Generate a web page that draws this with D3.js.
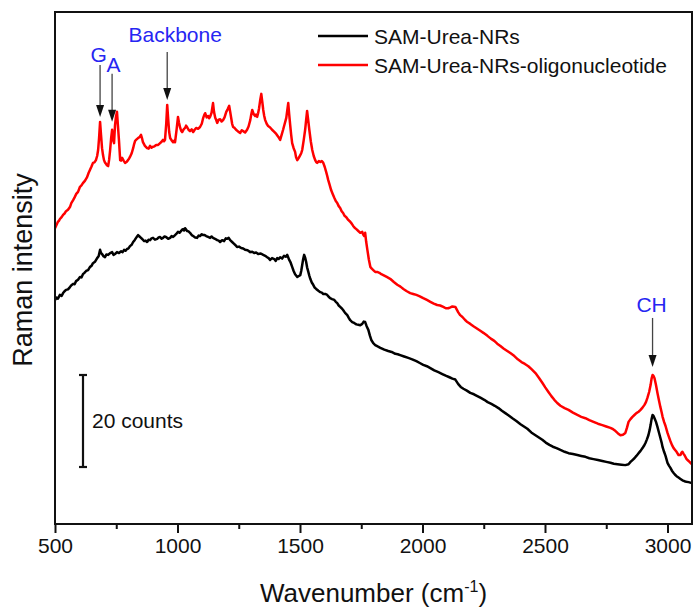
<!DOCTYPE html>
<html>
<head>
<meta charset="utf-8">
<script src="https://cdn.jsdelivr.net/npm/d3@7"></script>
<style>
  html, body { margin: 0; padding: 0; background: #fff; }
  svg { display: block; font-family: Arial, "Liberation Sans", sans-serif; }
</style>
</head>
<body>
<svg id="chart" width="694" height="608"></svg>
<script>
// Raman spectra: [wavenumber (cm-1), intensity (counts)]
const seriesNames = ["SAM-Urea-NRs", "SAM-Urea-NRs-oligonucleotide"];
const seriesColors = ["#000000", "#ff0000"];
const xTicks = [500, 1000, 1500, 2000, 2500, 3000];
const xMinorTicks = [750, 1250, 1750, 2250, 2750];

const nrsSpectrum = [
  [500,48.7],[506,49.2],[512,49.0],[520,49.8],[527,49.6],[533,50.2],[539,50.6],[545,50.9],[553,51.0],[561,51.5],[567,51.9],[574,52.2],[580,52.1],[586,52.8],
  [594,53.1],[602,53.7],[608,53.6],[614,54.3],[620,54.6],[627,55.0],[635,55.2],[643,55.9],[649,56.1],[655,56.7],[663,57.0],[672,57.8],[678,58.2],[684,59.6],[688,58.9],[692,58.7],
  [698,58.2],[704,58.0],[710,58.6],[717,58.5],[725,58.9],[733,59.1],[739,58.5],[745,58.7],[753,59.1],[761,58.9],[770,59.3],[776,59.1],[782,59.6],[788,59.4],[794,59.8],
  [800,59.9],[806,60.4],[813,60.7],[819,61.3],[825,61.7],[831,62.2],[835,62.5],[839,62.8],[845,62.5],[851,62.2],[857,61.9],[864,61.5],[870,61.6],[876,61.3],[882,61.8],[888,61.7],
  [894,62.1],[900,62.2],[908,61.8],[917,62.0],[923,62.3],[929,62.4],[935,62.0],[941,62.2],[947,62.5],[953,62.4],[962,62.0],[970,62.2],[976,62.6],[982,62.4],[988,62.7],[994,63.0],
  [1002,63.5],[1008,63.3],[1015,63.7],[1019,64.0],[1023,64.1],[1027,63.8],[1031,64.3],[1035,64.0],[1039,63.7],[1045,63.6],[1051,63.3],[1058,62.8],[1064,62.6],[1072,62.3],[1080,62.2],
  [1086,62.7],[1092,62.6],[1099,63.0],[1105,62.8],[1111,62.8],[1117,62.6],[1125,62.4],[1133,62.2],[1139,62.5],[1145,62.2],[1153,62.0],[1162,61.7],[1168,61.6],[1174,61.3],[1182,61.7],[1190,61.5],
  [1197,62.1],[1203,62.0],[1209,62.2],[1215,61.7],[1223,61.3],[1231,60.9],[1237,60.6],[1243,60.2],[1251,60.3],[1260,60.0],[1268,59.9],[1276,59.6],[1286,59.5],[1297,59.1],[1305,59.2],[1313,58.9],
  [1321,59.0],[1329,58.7],[1340,58.8],[1350,58.5],[1358,58.3],[1366,58.0],[1372,57.8],[1378,57.4],[1386,57.8],[1395,57.6],[1401,57.2],[1407,57.8],[1413,57.6],[1419,58.0],[1427,57.7],[1435,58.3],
  [1442,58.1],[1448,58.5],[1456,57.4],[1462,56.8],[1468,55.9],[1474,55.0],[1480,54.3],[1489,53.7],[1495,53.9],[1501,54.1],[1505,55.0],[1509,56.3],[1513,57.6],[1517,58.5],
  [1521,57.9],[1525,57.0],[1529,55.8],[1534,54.8],[1538,54.0],[1542,53.3],[1548,52.5],[1554,52.0],[1560,51.4],[1566,51.1],[1575,50.7],[1583,50.4],[1589,50.3],[1595,50.0],[1603,50.0],[1611,49.8],
  [1617,49.4],[1623,49.1],[1631,48.9],[1640,48.7],[1646,48.3],[1652,48.0],[1658,47.5],[1664,47.2],[1670,46.9],[1676,46.5],[1684,45.9],[1693,45.4],[1699,44.8],[1705,44.3],[1713,43.9],[1721,43.7],
  [1730,43.4],[1738,43.3],[1746,43.2],[1754,43.5],[1760,44.0],[1766,43.9],[1772,43.0],[1779,42.2],[1785,41.0],[1791,40.0],[1799,39.3],[1807,38.9],[1817,38.6],[1828,38.3],[1844,37.9],[1860,37.6],
  [1874,37.4],[1889,37.0],[1899,36.9],[1909,36.7],[1925,36.4],[1942,36.1],[1958,35.8],[1975,35.4],[1989,35.0],[2003,34.6],[2018,34.3],[2032,33.9],[2048,33.4],[2065,33.0],[2081,32.6],[2097,32.2],
  [2110,31.9],[2122,31.6],[2134,31.4],[2146,30.4],[2156,29.8],[2167,29.4],[2181,29.0],[2195,28.5],[2210,28.2],[2224,27.8],[2238,27.4],[2252,27.0],[2266,26.5],[2281,26.1],
  [2295,25.7],[2310,25.2],[2324,24.6],[2338,24.1],[2352,23.6],[2367,23.0],[2383,22.4],[2400,21.7],[2414,21.2],[2428,20.7],[2444,19.9],[2461,19.3],[2475,18.8],[2489,18.3],[2503,17.7],[2518,17.2],
  [2532,16.8],[2547,16.5],[2563,16.1],[2580,15.7],[2596,15.4],[2614,15.2],[2632,15.0],[2648,14.8],[2665,14.6],[2681,14.3],[2698,14.1],[2716,13.9],[2734,13.7],[2750,13.5],[2767,13.3],
  [2781,13.1],[2796,13.0],[2812,12.9],[2828,12.8],[2841,13.0],[2849,13.5],[2857,13.9],[2865,14.3],[2873,14.8],[2882,15.4],[2890,15.9],[2898,16.5],[2904,17.0],[2910,17.6],
  [2916,18.4],[2922,19.3],[2927,20.4],[2931,21.5],[2935,22.8],[2939,23.7],[2943,23.5],[2947,23.0],[2953,22.2],[2959,21.1],[2965,19.9],[2971,18.7],[2976,17.7],[2980,16.7],[2986,15.7],[2992,14.8],
  [3000,13.3],[3006,12.7],[3012,12.2],[3018,11.6],[3025,11.1],[3031,10.7],[3037,10.4],[3045,10.1],[3053,9.8],[3061,9.5],[3069,9.3],[3077,9.2],[3086,9.1],[3093,9.0],[3100,8.9]
];

const oligoSpectrum = [
  [500,64.3],[506,65.0],[512,65.7],[516,65.9],[520,66.3],[527,66.7],[533,67.2],[539,67.5],[545,68.0],[553,68.3],[561,68.9],[567,69.8],[574,70.4],[580,71.0],[586,71.7],
  [594,72.2],[602,73.3],[608,73.6],[614,74.1],[622,74.6],[631,75.4],[637,76.3],[643,77.0],[649,77.7],[655,78.5],[661,78.6],[667,79.1],[672,80.0],[676,81.3],[680,84.0],[684,87.4],
  [688,84.5],[692,81.7],[696,80.2],[700,79.1],[704,78.6],[708,78.3],[712,78.0],[717,77.8],[721,79.2],[725,81.3],[729,83.8],[733,85.7],[737,83.5],[741,82.8],
  [745,86.7],[749,88.6],[753,89.6],[757,86.5],[761,83.5],[766,79.1],[770,79.0],[774,79.6],[780,79.0],[786,78.5],[792,78.7],[798,79.1],[802,79.4],[806,79.8],
  [813,80.6],[819,81.7],[823,82.6],[827,83.3],[833,83.6],[839,83.9],[845,84.1],[851,84.6],[855,83.9],[859,83.0],[867,82.2],[876,81.7],[882,81.6],[888,82.2],[894,81.8],[900,82.0],
  [906,82.1],[913,82.4],[921,82.4],[929,82.8],[935,83.1],[941,83.5],[945,83.2],[949,83.5],[954,87.0],[958,91.1],[962,88.0],[966,85.2],[970,83.9],[976,83.4],[982,83.0],
  [986,83.3],[990,83.0],[996,85.6],[1002,88.5],[1006,87.3],[1011,86.1],[1015,85.5],[1019,85.2],[1025,85.8],[1031,86.1],[1035,86.6],[1039,86.3],[1045,85.7],[1051,85.4],[1058,85.8],[1064,85.2],
  [1070,85.7],[1076,86.1],[1084,85.9],[1092,86.3],[1099,87.0],[1105,88.3],[1109,88.9],[1113,89.3],[1119,88.4],[1125,88.7],[1129,88.2],[1133,88.5],[1139,89.4],[1145,91.5],[1149,89.6],[1154,88.3],
  [1158,87.8],[1162,87.2],[1168,87.9],[1174,88.0],[1180,87.5],[1186,87.8],[1192,88.4],[1199,89.6],[1205,90.2],[1211,90.9],[1215,89.6],[1219,88.3],[1223,87.0],[1227,86.3],[1233,86.1],[1239,85.7],
  [1248,85.3],[1256,85.0],[1262,85.6],[1268,85.4],[1276,85.1],[1284,85.7],[1290,86.4],[1297,87.8],[1301,89.0],[1305,90.0],[1311,89.1],[1317,88.7],[1321,89.0],[1325,88.5],[1329,89.3],[1333,90.4],
  [1338,92.3],[1342,93.5],[1346,91.8],[1350,90.0],[1354,88.7],[1358,87.8],[1364,87.0],[1370,86.5],[1378,86.2],[1386,85.7],[1394,85.3],[1403,84.8],[1411,84.2],[1419,83.5],[1425,84.6],[1431,85.7],
  [1437,86.9],[1444,88.3],[1448,89.9],[1452,91.5],[1456,89.0],[1460,86.7],[1464,84.6],[1468,82.8],[1474,81.7],[1480,80.9],[1484,79.7],[1489,79.1],[1495,79.6],[1501,80.2],[1505,80.6],[1509,81.3],
  [1515,83.4],[1521,85.7],[1525,87.8],[1529,89.8],[1533,88.0],[1538,85.7],[1544,83.2],[1550,81.3],[1556,80.0],[1562,79.1],[1566,78.7],[1570,78.5],[1577,78.9],[1583,78.7],[1589,78.9],[1595,78.5],
  [1601,77.6],[1607,76.5],[1611,75.7],[1615,74.8],[1621,73.7],[1627,72.6],[1633,71.8],[1640,70.9],[1646,70.2],[1652,69.8],[1658,69.1],[1664,68.7],[1670,68.0],[1676,67.6],[1682,67.0],[1689,66.7],
  [1697,66.1],[1705,65.7],[1711,65.3],[1717,64.8],[1723,64.4],[1730,64.1],[1738,63.7],[1746,63.3],[1754,63.5],[1758,62.9],[1762,62.6],[1766,63.3],[1770,61.4],[1775,59.6],
  [1781,57.5],[1787,55.9],[1793,55.5],[1799,55.2],[1807,54.8],[1815,54.8],[1824,54.6],[1832,54.3],[1840,54.1],[1854,53.7],[1868,53.3],[1883,52.6],[1897,52.0],[1910,51.6],[1922,51.1],
  [1936,50.6],[1950,50.2],[1962,50.0],[1975,49.8],[1989,49.5],[2003,49.1],[2018,48.7],[2032,48.3],[2046,47.9],[2060,47.6],[2072,47.5],[2085,47.2],[2095,46.9],[2105,46.9],[2114,47.1],[2122,47.3],
  [2134,47.2],[2140,46.6],[2146,46.0],[2154,45.4],[2163,45.0],[2173,44.4],[2183,43.9],[2195,43.5],[2208,43.0],[2222,42.5],[2236,42.0],[2250,41.5],[2265,40.9],[2279,40.3],[2293,39.8],
  [2305,39.2],[2318,38.7],[2332,38.1],[2346,37.6],[2360,37.1],[2375,36.5],[2389,35.8],[2404,35.2],[2418,34.8],[2432,34.3],[2446,33.6],[2461,32.8],[2475,31.8],[2489,30.7],[2501,29.7],[2514,28.7],
  [2526,27.8],[2538,27.0],[2550,26.3],[2563,25.7],[2580,25.2],[2596,24.8],[2614,24.2],[2632,23.7],[2648,23.3],[2665,23.0],[2681,22.6],[2698,22.2],[2716,21.8],[2734,21.5],[2750,21.2],[2767,20.9],
  [2778,20.6],[2788,20.2],[2798,19.7],[2808,19.3],[2818,19.4],[2828,19.8],[2835,21.0],[2841,22.2],[2849,22.8],[2857,23.3],[2865,23.7],[2873,24.1],[2882,24.4],[2890,24.8],[2898,25.3],[2906,25.9],
  [2912,26.5],[2918,27.4],[2925,28.7],[2931,30.2],[2935,31.6],[2939,32.4],[2943,32.2],[2947,31.7],[2953,30.2],[2959,28.5],[2965,26.9],[2971,25.4],[2976,24.3],[2980,23.3],[2986,22.2],[2992,21.3],
  [3000,19.8],[3006,18.9],[3012,18.0],[3018,17.2],[3025,16.5],[3031,16.1],[3037,15.7],[3045,15.0],[3053,15.0],[3057,15.5],[3061,15.7],[3065,15.3],[3069,15.0],
  [3078,14.1],[3084,13.8],[3090,13.5],[3095,13.2],[3100,13.0]
];

// Band assignments marked on the oligonucleotide spectrum
const peakNames = ["G", "A", "Backbone", "CH"];
const peakWaves = [684, 733, 958, 2939];
const scaleBarCounts = 20;

const svg = d3.select("#chart");
const plotLeft = 55, plotRight = 692, plotTop = 12, plotBottom = 524;

const x = d3.scaleLinear().domain([500, 3100]).range([plotLeft, plotRight]);
const y = d3.scaleLinear().domain([0, 111.3]).range([plotBottom, plotTop]);

const ink = "#111";

// spectra
const line = d3.line().x(d => x(d[0])).y(d => y(d[1]));
const spectra = [nrsSpectrum, oligoSpectrum];
spectra.forEach((s, i) => {
  svg.append("path")
    .attr("d", line(s))
    .attr("fill", "none")
    .attr("stroke", seriesColors[i])
    .attr("stroke-width", 2.5)
    .attr("stroke-linejoin", "round");
});

// frame
svg.append("rect")
  .attr("x", plotLeft).attr("y", plotTop)
  .attr("width", plotRight - plotLeft).attr("height", plotBottom - plotTop)
  .attr("fill", "none").attr("stroke", ink).attr("stroke-width", 2);

// x axis: labelled major ticks plus unlabelled minor ticks
const xAxis = d3.axisBottom(x).tickValues(xTicks).tickFormat(d3.format("d"))
  .tickSize(9).tickSizeOuter(0).tickPadding(5);
const gx = svg.append("g").attr("transform", `translate(0,${plotBottom})`).call(xAxis);
gx.select(".domain").remove();
gx.selectAll(".tick line").attr("stroke", ink).attr("stroke-width", 2);
gx.selectAll(".tick text").attr("font-size", 21).attr("fill", ink)
  .attr("font-family", 'Arial, "Liberation Sans", sans-serif');
const gxm = svg.append("g").attr("transform", `translate(0,${plotBottom})`)
  .call(d3.axisBottom(x).tickValues(xMinorTicks).tickSize(5).tickFormat(""));
gxm.select(".domain").remove();
gxm.selectAll(".tick line").attr("stroke", ink).attr("stroke-width", 2);

// axis titles
const xt = svg.append("text")
  .attr("x", (plotLeft + plotRight) / 2).attr("y", 602)
  .attr("text-anchor", "middle").attr("font-size", 26).attr("fill", ink);
xt.append("tspan").text("Wavenumber (cm");
xt.append("tspan").text("-1").attr("font-size", 16).attr("dy", -10);
xt.append("tspan").text(")").attr("dy", 10);

svg.append("text")
  .attr("transform", `translate(32,270) rotate(-90)`)
  .attr("text-anchor", "middle").attr("font-size", 27).attr("fill", ink)
  .text("Raman intensity");

// legend
const legendY = [36, 65];
seriesNames.forEach((name, i) => {
  svg.append("line")
    .attr("x1", 318).attr("x2", 368)
    .attr("y1", legendY[i]).attr("y2", legendY[i])
    .attr("stroke", seriesColors[i]).attr("stroke-width", 2.5);
  svg.append("text")
    .attr("x", 374).attr("y", legendY[i] + 7.5)
    .attr("font-size", 21).attr("fill", ink)
    .text(name);
});

// peak markers: arrow offset above the curve, label placement around the tail
const markerLayout = [
  { gap: 5, len: 52, tx: -1.5, ty: -3 },
  { gap: 8, len: 48, tx: 1.5, ty: -2 },
  { gap: 5, len: 48, tx: 8, ty: -10 },
  { gap: 8, len: 49, tx: -1, ty: -6 }
];
const bisect = d3.bisector(d => d[0]).left;
peakNames.forEach((name, i) => {
  const w = peakWaves[i];
  const pt = oligoSpectrum[bisect(oligoSpectrum, w)];
  const ax = x(w);
  const tipY = y(pt[1]) - markerLayout[i].gap;
  const tailY = tipY - markerLayout[i].len;
  svg.append("line")
    .attr("x1", ax).attr("x2", ax)
    .attr("y1", tailY).attr("y2", tipY - 10)
    .attr("stroke", "#444").attr("stroke-width", 1.3);
  svg.append("path")
    .attr("d", `M${ax},${tipY} L${ax - 4},${tipY - 12} L${ax + 4},${tipY - 12} Z`)
    .attr("fill", "#111");
  svg.append("text")
    .attr("x", ax + markerLayout[i].tx).attr("y", tailY + markerLayout[i].ty)
    .attr("text-anchor", "middle").attr("font-size", 21).attr("fill", "#2626f2")
    .text(name);
});

// intensity scale bar
const barX = 83, barBottom = 467;
const barTop = barBottom - (y(0) - y(scaleBarCounts));
svg.append("line").attr("x1", barX).attr("x2", barX).attr("y1", barTop).attr("y2", barBottom)
  .attr("stroke", ink).attr("stroke-width", 2.2);
[barTop, barBottom].forEach(yy => {
  svg.append("line").attr("x1", barX - 4).attr("x2", barX + 4).attr("y1", yy).attr("y2", yy)
    .attr("stroke", ink).attr("stroke-width", 2.2);
});
svg.append("text")
  .attr("x", barX + 9).attr("y", (barTop + barBottom) / 2 + 7.5)
  .attr("font-size", 21).attr("fill", ink)
  .text(`${scaleBarCounts} counts`);
</script>
</body>
</html>
